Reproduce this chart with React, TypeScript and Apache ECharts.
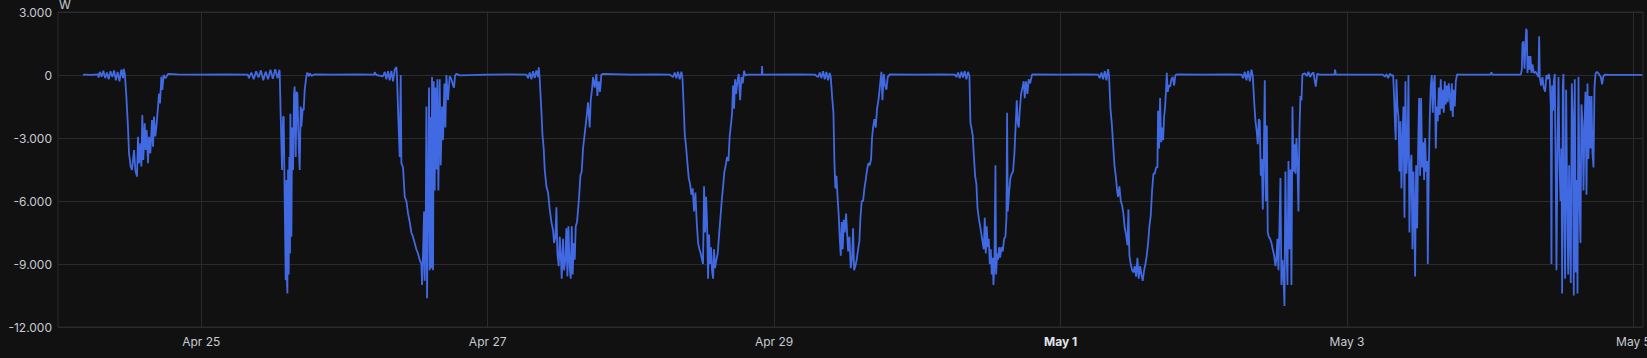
import React, { useEffect, useRef } from "react";
import * as echarts from "echarts";

// x = hours since Apr 24 00:00, y = power in W
const apr24: [number, number][] = [
  [4.19, 20], [5.59, 10], [6.7, 30], [6.8, -120], [7.0, 150], [7.3, -80], [7.6, 200], [7.9, -150], [8.2, 120], [8.5, -200],
  [8.8, 180], [9.1, -100], [9.4, 220], [9.7, -250], [10.0, 150], [10.3, -300], [10.6, 250], [10.9, -150], [11.0, 300], [11.2, 50],
  [11.45, -1000], [11.73, -2500], [11.9, -3730], [12.18, -4360], [12.4, -4520], [12.74, -3570], [12.96, -4520], [13.24, -4840],
  [13.41, -2940], [13.58, -4200], [13.8, -3250], [13.97, -4360], [14.13, -1900], [14.3, -4050], [14.53, -2300], [14.69, -3570],
  [14.86, -2620], [15.08, -4200], [15.25, -2940], [15.47, -3730], [15.75, -2140], [15.92, -3410], [16.09, -1980], [16.31, -2930],
  [16.54, -2300], [16.76, -1510], [16.93, -880], [17.09, -1350], [17.32, -80], [17.49, -710], [17.71, 0], [17.99, -160],
  [18.44, 50], [20, 30], [24, 20], [28, 30],
];

const apr25: [number, number][] = [
  [31.8, 20], [32.0, -150], [32.4, 120], [32.8, -200], [33.2, 180], [33.6, -120], [34.0, 220], [34.4, -250], [34.8, 160],
  [35.2, -200], [35.6, 250], [36.0, -180], [36.4, 280], [36.8, -150], [37.1, 250], [37.15, 100], [37.32, -1980], [37.54, -4520],
  [37.71, -2000], [37.82, -1980], [37.99, -6000], [38.16, -9770], [38.27, -5000], [38.38, -10000], [38.44, -10400], [38.55, -4500],
  [38.66, -9500], [38.77, -3900], [38.88, -8500], [38.94, -1840], [39.11, -7700], [39.22, -2500], [39.39, -4520], [39.55, -900],
  [39.66, -550], [39.83, -3900], [39.99, -800], [40.11, -870], [40.28, -2800], [40.5, -4520], [40.67, -1500], [40.78, -2460],
  [41.01, -1600], [41.17, -1680], [41.34, -710], [41.62, -50], [41.79, 120], [42.01, -60], [42.23, 80], [42.46, -40], [43.02, 30],
  [46, 20], [50, 30], [53.0, 20], [53.07, 130], [53.35, 0],
];

const apr26: [number, number][] = [
  [54.47, -60], [54.75, 150], [55.02, -200], [55.3, 180], [55.58, -250], [55.86, 200], [56.14, -300], [56.42, 250], [56.7, 380],
  [56.81, -100], [56.98, -1650], [57.15, -3000], [57.26, -3900], [57.43, 0], [57.54, -4200], [57.82, -4400], [58.1, -5800],
  [58.38, -6000], [58.66, -6600], [58.94, -7000], [59.21, -7500], [59.49, -7700], [59.77, -8000], [60.05, -8300], [60.33, -8500],
  [60.61, -8800], [60.89, -9000], [61.0, -10000], [61.17, -8500], [61.34, -6500], [61.45, -9800], [61.62, -7000], [61.73, -1500],
  [61.84, -10630], [62.01, -6000], [62.17, -600], [62.29, -9300], [62.4, -2000], [62.57, -9200], [62.68, -100], [62.85, -9300],
  [62.96, -300], [63.13, -5500], [63.24, -600], [63.41, -4500], [63.57, -200], [63.74, -5500], [63.96, -200], [64.13, -4300],
  [64.35, -1500], [64.52, -3100], [64.75, -400], [64.91, -2500], [65.08, 0], [65.36, -1200], [65.64, -50], [65.92, -200],
  [66.2, -500], [66.36, -600], [66.53, -50], [66.76, 60], [67.32, -20], [72, 20], [76, 30],
];

const apr27: [number, number][] = [
  [78.49, 20], [78.77, -150], [79.05, 120], [79.33, -200], [79.6, 180], [79.88, -150], [80.16, 220], [80.44, -100], [80.56, 360],
  [80.72, -200], [81.0, -1700], [81.17, -2800], [81.39, -3500], [81.56, -4500], [81.84, -5300], [82.12, -5600], [82.4, -6400],
  [82.68, -7000], [82.96, -7400], [83.13, -8000], [83.35, -7700], [83.52, -6300], [83.68, -8500], [83.91, -9100], [84.08, -7700],
  [84.24, -8500], [84.41, -9700], [84.63, -7800], [84.8, -9300], [85.02, -8800], [85.19, -7300], [85.36, -9600], [85.53, -7200],
  [85.75, -9200], [85.92, -9700], [86.09, -7200], [86.25, -9500], [86.42, -8000], [86.59, -8800], [86.76, -7200], [86.98, -7000],
  [87.15, -6400], [87.32, -5800], [87.54, -4800], [87.76, -4600], [87.98, -3500], [88.26, -2800], [88.54, -2100], [88.82, -1300],
  [89.1, -2500], [89.27, -1200], [89.49, -700], [89.66, -100], [89.94, -600], [90.22, 50], [90.38, -1000], [90.61, -300],
  [90.83, -800], [91.05, 20], [91.33, 50], [96, 20], [100, 30],
];

const apr28: [number, number][] = [
  [102.5, 20], [103.07, -100], [103.35, 120], [103.62, -150], [103.9, 150], [104.18, -200], [104.46, 160], [104.63, -100],
  [104.85, -1500], [105.02, -2800], [105.24, -3400], [105.47, -4200], [105.69, -4900], [105.92, -5200], [106.14, -5700],
  [106.36, -5400], [106.59, -6500], [106.81, -5600], [107.03, -7000], [107.26, -8000], [107.48, -8300], [107.7, -8500],
  [107.93, -8800], [108.09, -9000], [108.26, -5300], [108.43, -7500], [108.6, -5800], [108.76, -7000], [108.93, -9700],
  [109.1, -7600], [109.27, -9000], [109.43, -8200], [109.6, -9300], [109.77, -9700], [109.94, -8300], [110.1, -9200],
  [110.33, -8800], [110.55, -8500], [110.78, -7600], [111.0, -6800], [111.22, -6000], [111.45, -5300], [111.67, -4600],
  [111.89, -4300], [112.12, -3900], [112.34, -4100], [112.56, -2900], [112.79, -2300], [112.96, -1800], [113.12, -500],
  [113.29, -1600], [113.46, -200], [113.63, -900], [113.85, -300], [114.07, 50], [114.3, -1200], [114.52, -100], [114.74, -400],
  [114.97, 200], [115.19, -20], [115.64, 20], [117.93, 20], [117.98, 430], [118.04, 20], [124, 30],
];

const apr29: [number, number][] = [
  [126.81, 20], [127.37, -100], [127.65, 120], [127.93, -150], [128.2, 180], [128.48, -200], [128.76, 150], [129.04, -250],
  [129.32, 100], [129.49, -100], [129.71, -1000], [129.94, -1800], [130.11, -4200], [130.27, -5400], [130.44, -4800],
  [130.61, -5700], [130.83, -6700], [131.0, -7800], [131.17, -8600], [131.33, -7000], [131.5, -8300], [131.67, -6900],
  [131.84, -7500], [132.06, -6600], [132.23, -7500], [132.4, -8400], [132.62, -7700], [132.84, -9200], [133.07, -8700],
  [133.23, -7300], [133.4, -9300], [133.62, -9100], [133.84, -8800], [134.07, -8300], [134.29, -7900], [134.46, -6800],
  [134.68, -6000], [134.91, -6000], [135.13, -5400], [135.35, -5000], [135.58, -4500], [135.8, -4200], [136.02, -4300],
  [136.25, -4000], [136.41, -3000], [136.58, -2500], [136.81, -2100], [137.03, -2500], [137.25, -1600], [137.48, -1200],
  [137.64, -800], [137.81, -300], [137.98, 150], [138.15, -1200], [138.37, 50], [138.59, -500], [138.82, -700], [139.04, -100],
  [139.38, 30], [144, 20], [148, 30],
];

const apr30: [number, number][] = [
  [150.27, 20], [150.55, -100], [150.83, 120], [151.11, -150], [151.39, 150], [151.66, -120], [151.94, 180], [152.22, -200],
  [152.5, 150], [152.73, -50], [152.9, -2300], [153.06, -2500], [153.29, -2900], [153.46, -3800], [153.68, -4800], [153.9, -5200],
  [154.07, -6300], [154.29, -6800], [154.52, -7200], [154.74, -7600], [154.96, -8000], [155.13, -8300], [155.3, -6800],
  [155.47, -8500], [155.63, -7200], [155.8, -8200], [155.97, -7800], [156.14, -9000], [156.3, -8300], [156.47, -9500],
  [156.64, -8700], [156.75, -10000], [156.92, -9000], [157.09, -4300], [157.2, -9500], [157.36, -8500], [157.53, -8800],
  [157.7, -8200], [157.87, -8700], [158.09, -8200], [158.31, -8400], [158.54, -7800], [158.76, -7700], [158.93, -6800],
  [159.04, -1800], [159.15, -6500], [159.37, -5600], [159.6, -4900], [159.82, -4700], [160.04, -4600], [160.27, -3700],
  [160.49, -2300], [160.66, -1200], [160.83, -2300], [161.0, -2500], [161.16, -1700], [161.39, -900], [161.61, -600],
  [161.83, -300], [162.0, -1100], [162.22, -300], [162.45, -900], [162.67, -200], [162.9, -400], [163.23, 30], [168, 20], [172, 30],
];

const may1: [number, number][] = [
  [174.3, 20], [174.57, -150], [174.85, 120], [175.13, -200], [175.41, 180], [175.69, -250], [175.97, 280], [176.13, -50],
  [176.36, -1600], [176.58, -2300], [176.81, -3300], [177.03, -4300], [177.25, -4800], [177.48, -5500], [177.64, -5800],
  [177.86, -5300], [178.09, -6000], [178.31, -6200], [178.53, -6600], [178.76, -7300], [178.98, -7600], [179.2, -8100],
  [179.37, -6400], [179.54, -8600], [179.76, -9000], [179.99, -9300], [180.21, -9400], [180.43, -9100], [180.66, -9600],
  [180.88, -8700], [181.1, -9700], [181.33, -9100], [181.55, -9500], [181.77, -9800], [182.0, -9300], [182.22, -9000],
  [182.44, -8600], [182.67, -8000], [182.89, -7200], [183.11, -6700], [183.34, -5500], [183.56, -4700], [183.78, -4700],
  [184.01, -4400], [184.23, -4400], [184.34, -1700], [184.51, -3500], [184.68, -1100], [184.85, -3200], [185.01, -2500],
  [185.18, -3100], [185.35, -2000], [185.52, -1500], [185.68, -700], [185.8, 100], [185.96, -800], [186.13, -500],
  [186.36, -550], [186.58, -200], [186.8, -100], [187.03, -500], [187.25, 0], [187.58, 30], [192, 20], [196, 30],
];

const may2: [number, number][] = [
  [198.31, 20], [198.59, -150], [198.87, 150], [199.15, -250], [199.43, 200], [199.71, -300], [199.99, 250], [200.21, -50],
  [200.43, -1200], [200.66, -2200], [200.88, -2700], [201.05, -3300], [201.22, -2100], [201.38, -2200], [201.55, -4800],
  [201.72, -4000], [201.89, -6400], [202.05, -4000], [202.22, -250], [202.39, -6000], [202.56, -2400], [202.72, -7500],
  [202.89, -7700], [203.11, -7800], [203.34, -8000], [203.56, -8300], [203.79, -8600], [204.01, -9100], [204.18, -8700],
  [204.34, -7800], [204.51, -9300], [204.68, -7200], [204.85, -4900], [205.01, -10000], [205.18, -8800], [205.35, -9500],
  [205.52, -11000], [205.68, -4600], [205.85, -8000], [206.02, -10000], [206.19, -4100], [206.36, -8300], [206.52, -4500],
  [206.69, -10000], [206.86, -1500], [207.03, -4600], [207.19, -3300], [207.36, -4700], [207.53, -3000], [207.7, -4300],
  [207.86, -6500], [208.03, -2600], [208.2, -1000], [208.37, -1200], [208.53, 30], [208.93, 80], [209.26, -50], [209.54, 150],
  [209.82, -100], [210.1, 60], [210.38, 120], [210.6, -300], [210.77, -550], [211.0, 50], [211.44, 20], [213.9, 20],
  [214.01, 260], [214.12, 20], [218, 20], [222.0, 20],
];

const may3: [number, number][] = [
  [222.33, -80], [222.61, 40], [222.89, -150], [223.17, 60], [223.5, -40], [223.73, 0], [223.89, -1000], [224.06, -2500],
  [224.17, -3100], [224.28, -200], [224.45, -1500], [224.62, -2000], [224.79, -4600], [224.96, -2200], [225.12, -5400],
  [225.29, -3000], [225.46, -1500], [225.63, -6800], [225.79, -300], [225.96, -4700], [226.13, -3600], [226.3, 0],
  [226.46, -7500], [226.63, -4300], [226.8, -3800], [226.97, -8300], [227.13, -4600], [227.3, -7000], [227.41, -9600],
  [227.58, -4300], [227.75, -7300], [227.92, -3500], [228.08, -1100], [228.25, -4800], [228.42, -1100], [228.59, -4400],
  [228.75, -3200], [228.92, -5000], [229.09, -3000], [229.26, -4600], [229.42, -4100], [229.54, -9000], [229.7, -4600],
  [229.87, -2000], [230.04, -500], [230.21, 0], [230.37, -1800], [230.54, -400], [230.71, 0], [230.88, -3500], [231.04, -1500],
  [231.21, -2200], [231.38, -600], [231.55, -1900], [231.71, -200], [231.88, -1600], [232.05, -700], [232.22, -1800],
  [232.38, -300], [232.55, -1400], [232.72, -500], [232.89, -1300], [233.05, -400], [233.22, -1000], [233.39, -1700],
  [233.56, -400], [233.72, -2000], [233.89, -700], [234.06, -1500], [234.23, -300], [234.45, 30], [234.9, 20], [240, 20],
  [240.21, 130], [240.32, 20], [245.12, 20],
];

const may4: [number, number][] = [
  [245.29, 250], [245.4, 1500], [245.57, 1600], [245.74, 300], [245.85, 1000], [246.02, 2200], [246.13, 2100], [246.24, 100],
  [246.41, 900], [246.58, 250], [246.74, 900], [246.91, 100], [247.08, 500], [247.3, 100], [247.58, 150], [247.86, 40],
  [248.08, -100], [248.2, 1850], [248.3, -100], [248.53, -500], [248.75, -100], [248.97, -600], [249.2, -800], [249.42, 0],
  [249.65, -200], [249.82, 50], [249.98, -200], [250.15, -1500], [250.26, -9000], [250.37, -500], [250.54, -1700],
  [250.65, -300], [250.82, 50], [250.99, -5200], [251.1, -9300], [251.27, -3500], [251.44, -100], [251.6, -4000],
  [251.77, -6000], [251.94, -3500], [252.05, -10400], [252.16, -500], [252.27, 50], [252.39, -6400], [252.55, -9700],
  [252.72, -700], [252.89, -5800], [253.06, -9500], [253.22, -4300], [253.39, -8000], [253.5, -9900], [253.67, -400],
  [253.84, -2000], [254.0, -10500], [254.17, -200], [254.34, -9400], [254.51, -5000], [254.62, -10400], [254.79, -100],
  [254.96, -5800], [255.12, -8000], [255.29, -1400], [255.46, -2300], [255.63, -5500], [255.79, -2500], [255.96, -800],
  [256.13, -5700], [256.3, -400], [256.46, -4000], [256.63, -1000], [256.8, -3500], [256.97, -1000], [257.13, -3700],
  [257.3, -4400], [257.47, -600], [257.64, 60], [257.86, 150], [258.08, 100], [258.31, 0], [258.53, -100], [258.75, -450],
  [258.92, -100], [259.2, 20], [260.04, 10], [265.5, 10],
];

const X_TICK_HOURS = [24, 72, 120, 168, 216, 264];
const X_TICK_LABELS = ["Apr 25", "Apr 27", "Apr 29", "May 1", "May 3", "May 5"];
const X_BOLD_LABELS = ["May 1"];
const Y_MIN = -12000;
const Y_MAX = 3000;
const Y_STEP = 3000;
const X_MAX_HOURS = 265.6;
const UNIT = "W";

const SERIES_DATA = [...apr24, ...apr25, ...apr26, ...apr27, ...apr28, ...apr29, ...apr30, ...may1, ...may2, ...may3, ...may4];

function fmtThousands(v: number): string {
  const s = Math.abs(Math.round(v)).toString().replace(/\B(?=(\d{3})+(?!\d))/g, ".");
  return (v < 0 ? "-" : "") + s;
}

const GRID_COLOR = "#2a2b30";
const TEXT_COLOR = "#c8cbd2";
const FONT = "Inter, Roboto, sans-serif";

export default function App() {
  const ref = useRef<HTMLDivElement>(null);
  useEffect(() => {
    document.body.style.margin = "0";
    document.body.style.background = "#111111";
    if (!ref.current) return;
    const chart = echarts.init(ref.current, undefined, { renderer: "svg" });
    chart.setOption({
      animation: false,
      backgroundColor: "#111111",
      grid: {
        left: 58,
        right: 4,
        top: 12,
        bottom: 31,
        outerBoundsMode: "none",
        containLabel: false,
        show: true,
        borderColor: GRID_COLOR,
        borderWidth: 1,
      },
      xAxis: {
        type: "value",
        min: 0,
        max: X_MAX_HOURS,
        axisLine: { show: false },
        axisTick: { show: false, customValues: X_TICK_HOURS },
        splitLine: { show: true, lineStyle: { color: GRID_COLOR, width: 1 } },
        axisLabel: {
          customValues: X_TICK_HOURS,
          color: TEXT_COLOR,
          fontFamily: FONT,
          fontSize: 12,
          margin: 8,
          hideOverlap: false,
          formatter: (v: number) => {
            const i = X_TICK_HOURS.indexOf(Math.round(v));
            const label = i >= 0 ? X_TICK_LABELS[i] : "";
            return X_BOLD_LABELS.includes(label) ? `{b|${label}}` : label;
          },
          rich: {
            b: { fontWeight: "bold", color: "#e2e4ea", fontFamily: FONT, fontSize: 12 },
          },
        },
      },
      yAxis: {
        type: "value",
        min: Y_MIN,
        max: Y_MAX,
        interval: Y_STEP,
        name: UNIT,
        nameLocation: "end",
        nameGap: 2,
        nameTextStyle: {
          color: TEXT_COLOR,
          fontFamily: FONT,
          fontSize: 12,
          align: "left",
          verticalAlign: "bottom",
          padding: [0, 0, 0, 1],
        },
        axisLine: { show: false },
        axisTick: { show: false },
        splitLine: { show: true, lineStyle: { color: GRID_COLOR, width: 1 } },
        axisLabel: {
          color: TEXT_COLOR,
          fontFamily: FONT,
          fontSize: 12,
          margin: 6,
          formatter: (v: number) => fmtThousands(v),
        },
      },
      series: [
        {
          type: "line",
          data: SERIES_DATA,
          showSymbol: false,
          symbol: "none",
          lineStyle: { color: "#4169e1", width: 1.8 },
          itemStyle: { color: "#4169e1" },
        },
      ],
    });
    return () => chart.dispose();
  }, []);
  return <div ref={ref} style={{ width: 1647, height: 358 }} />;
}
